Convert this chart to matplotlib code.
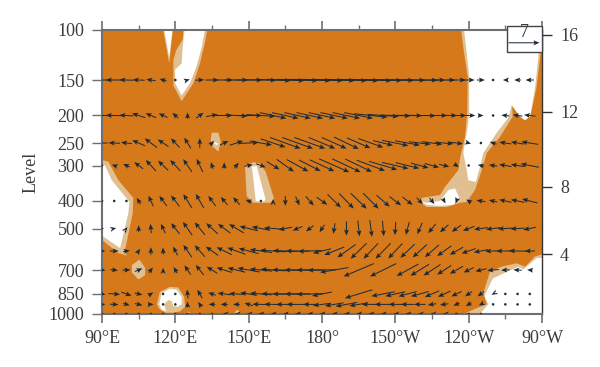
import numpy as np
import matplotlib
matplotlib.use('Agg')
import matplotlib.pyplot as plt
from matplotlib.patches import Rectangle
from matplotlib.ticker import NullLocator

plt.rcParams['font.family'] = ['Liberation Serif', 'DejaVu Serif']

# axes labels
lon_ticks = [90, 120, 150, 180, 210, 240, 270]
lon_labels = ['90°E', '120°E', '150°E', '180°', '150°W', '120°W', '90°W']
lon_minor = [105, 135, 165, 195, 225, 255]
level_ticks = [100, 150, 200, 250, 300, 400, 500, 700, 850, 1000]
height_km = [16, 12, 8, 4]
height_lev = [104, 194, 357, 615]

# wind grid, 5 degree steps from 90E
lons = np.arange(90, 270, 5)
wind_levels = [150, 200, 250, 300, 400, 500, 600, 700, 850, 925, 1000]
nan = np.nan

u150 = [-4.2, -3.8, -3.2, -2.7, -2.1, -1.6, 0.2, 1.0, 2.0, 3.0, 4.0, 5.2, 6.2, 7.0, 8.0, 8.6, 9.2, 9.5, 9.5, 9.3, 9.3, 9.0, 9.4, 8.6, 8.4, 8.0, 8.0, 6.0, 5.0, 4.2, 2.7, 1.8, 0.2, -1.1, -1.5, -1.9]
v150 = [0, 0, 0.1, 0.1, 0.3, 0.5, 0, 0.3, 0.1, 0, 0, 0, 0, -0.1, -0.3, -0.3, -0.3, -0.3, -0.3, -0.3, -0.3, -0.3, -0.3, -0.2, -0.2, -0.1, -0.1, 0, 0, 0, 0, 0, 0, 0, 0, 0]
u200 = [-4.2, -3.8, -3.2, -3.0, -2.4, -2.0, -1.3, 0, 1.7, 2.6, 3.7, 5.0, 6.0, 6.5, 6.0, 6.0, 6.0, 6.0, 6.0, 6.2, 6.2, 6.5, 7.5, 7.0, 6.9, 6.6, 7.2, 6.9, 5.8, 4.4, 3.0, 1.2, 0.3, -1.8, -2.2, -2.6]
v200 = [0, 0.1, 0.2, 1.0, 1.0, 0.9, 1.2, 1.4, 1.2, 0.5, 0, -0.3, 0, -0.4, -1.3, -1.3, -1.3, -1.3, -1.3, -1.3, -1.3, -1.3, -0.8, -0.5, -0.2, -0.1, -0.1, 0, 0, 0, 0, 0, 0, 0.2, 0.3, 0.3]
u250 = [-2.6, -2.6, -2.5, -2.9, -2.8, -2.4, -2.0, -1.5, 0, 1.0, 1.9, 3.0, 4.5, 5.0, 5.6, 6.9, 7.0, 7.0, 6.0, 5.6, 5.6, 5.3, 5.6, 4.5, 5.9, 5.6, 4.9, 4.7, 4.1, 3.0, 1.1, 0.2, -1.5, -2.7, -3.0, -3.8]
v250 = [0, 0.1, 0.3, 1.3, 2.1, 1.6, 2.1, 2.4, 2.2, 1.0, 0.9, 1.0, 0.2, -0.9, -1.9, -2.5, -2.5, -2.5, -2.5, -2.5, -2.7, -2.3, -2.0, -1.1, -1.2, -1.0, -0.6, -0.6, -0.4, -0.4, -0.3, 0, 0.5, 0.4, 0.5, 0.6]
u300 = [0, -1.1, -1.5, -2.0, -2.3, -2.3, -2.3, -2.0, -1.4, -0.5, 0, 1.0, 1.9, 2.2, 2.9, 3.9, 4.9, 4.9, 5.6, 6.8, 6.4, 6.0, 6.4, 6.4, 6.0, 5.3, 4.0, 3.2, 2.3, 1.1, 0.1, -1.4, -1.9, -2.8, -3.0, -4.1]
v300 = [0, 0.4, 0.7, 1.5, 2.5, 2.2, 2.5, 2.9, 3.0, 1.5, 1.4, 1.3, 0.4, -0.8, -1.8, -2.8, -2.7, -2.5, -2.6, -3.0, -3.0, -2.9, -2.4, -1.9, -1.4, -1.3, -1.1, -0.9, -0.5, -0.8, 0, 0.3, 0.3, 0.5, 0.5, 0.8]
u400 = [0.1, 0.1, -0.3, -0.9, -1.1, -1.7, -1.9, -1.9, -1.8, -1.7, -1.5, -1.5, -1.4, -0.6, 0, 0, 0.9, 1.8, 2.4, 3.0, 3.3, 3.6, 3.5, 3.0, 2.6, 2.3, 1.4, 1.1, 0.6, -0.4, -1.1, -2.0, -1.9, -2.8, -3.0, -3.5]
v400 = [0, 0, 0.3, 1.4, 2.4, 2.3, 2.5, 3.1, 3.2, 2.3, 1.8, 1.7, 0.5, 0, 0.9, -2.2, -2.0, -2.1, -1.7, -3.0, -3.4, -3.5, -3.5, -2.6, -2.0, -1.8, -1.5, -1.4, -1.1, -1.1, 0.7, 0.3, 0.4, 0.6, 0.6, 0.9]
u500 = [0.9, 0.9, 0.5, 0, -0.2, -1.0, -1.9, -2.1, -2.3, -2.6, -2.8, -3.3, -4.1, -4.1, -4.1, -3.0, -2.2, -1.7, -1.1, -0.4, 0, 0.4, 0.5, 0.3, -0.2, -0.8, -1.1, -1.7, -1.9, -2.1, -2.6, -3.1, -3.2, -3.4, -3.2, -2.9]
v500 = [0, 0.2, 0.6, 1.5, 2.1, 2.1, 2.4, 3.0, 2.8, 2.4, 2.1, 2.0, 1.0, 0.8, 0.3, -0.6, -0.9, -1.3, -1.7, -2.4, -3.2, -3.6, -3.8, -3.5, -3.0, -2.9, -2.6, -2.1, -1.7, -1.5, -1.0, -0.4, -0.4, -0.2, -0.2, -0.6]
u600 = [1.5, 2.0, 1.5, 0.7, 0, -0.1, -1.0, -1.9, -2.3, -2.8, -3.4, -4.1, -4.5, -5.0, -5.9, -5.6, -5.3, -5.3, -4.1, -4.5, -4.1, -3.6, -3.3, -3.4, -3.2, -3.2, -3.2, -3.2, -3.2, -3.0, -3.2, -3.2, -3.6, -4.1, -3.9, -2.3]
v600 = [0, 0, 0.2, 1.0, 1.7, 1.6, 2.0, 2.8, 2.6, 2.0, 1.7, 1.5, 1.2, 0.7, 0.4, 0.2, 0, -0.2, -1.0, -1.8, -2.9, -3.5, -3.5, -3.5, -3.4, -3.1, -2.9, -2.8, -2.3, -1.7, -1.1, -0.6, -0.1, 0, 0.1, 0]
u700 = [1.6, 1.7, 1.8, 1.7, 0.9, 0, -0.8, -1.4, -1.8, -2.4, -3.4, -4.0, -5.0, -5.0, -5.6, -6.0, -6.0, -6.0, -6.5, -6.4, nan, -6.8, nan, -5.9, nan, -4.9, -4.2, -3.8, -3.2, -3.0, -2.3, -2.5, -2.6, -1.9, -1.9, -1.2]
v700 = [-0.1, -0.2, 0.1, 0.7, 1.2, 1.0, 1.4, 2.1, 2.3, 1.5, 1.1, 1.0, 0.9, 0.5, 0.4, 0.1, 0, 0, -0.1, -1.1, nan, -2.9, nan, -2.9, nan, -2.7, -2.6, -2.5, -2.1, -1.7, -1.1, -0.6, -0.2, -0.1, 0.1, 0.1]
u850 = [1.6, 2.6, 2.3, 1.7, 1.1, 0, 0, -0.2, -1.1, -1.7, -3.0, -3.4, -3.8, -4.9, -5.3, -5.8, -5.8, -6.0, -4.5, nan, nan, -6.2, nan, -5.3, -4.5, -4.1, -4.0, -3.2, -2.8, -2.3, -1.6, -1.5, -0.7, -0.4, 0, 0]
v850 = [-0.2, -0.2, -0.8, -0.4, 0.7, 0, 0, 2.0, 1.9, 0.6, 0.4, 0.2, 0.6, 0.4, 0.1, 0, 0, -0.1, -0.9, nan, nan, -1.9, nan, -1.0, -1.0, -1.1, -1.1, -1.4, -1.3, -1.1, -1.1, -1.1, -0.4, -0.2, 0, 0]
u925 = [1.5, 1.9, 1.5, 1.7, 1.2, 0, 0, 0, -0.8, -1.5, -1.6, -1.5, -1.9, -3.8, -4.0, -4.2, -5.0, -3.0, -4.1, -4.2, -4.9, -4.2, -4.1, -3.8, -3.0, -3.0, -2.6, -1.9, -1.9, -1.4, -1.3, -0.9, -0.3, -0.2, 0, 0]
v925 = [0, -0.1, -0.5, -0.4, 0, 0, 0, 1.3, 1.1, 0, 0, 0, 0.6, 0.1, 0.1, 0, 0, 0, -0.5, -0.7, -0.9, -0.7, 0, 0, 0, 0, 0, -0.3, -0.3, -0.6, -0.8, -0.5, -0.2, -0.1, 0, 0]
u1000 = [0.5, 0.6, 0.5, 0.6, 0.5, 0, 0, 0, -0.4, -0.6, -0.8, -0.8, -1.0, -1.2, -1.2, -1.2, -1.2, -1.2, -1.2, -1.2, -1.2, -1.2, -1.2, -1.2, -1.0, -1.0, -0.9, -0.8, -0.7, -0.6, -0.4, -0.2, nan, nan, nan, nan]
v1000 = [0] * 36

# lightly significant (tan) regions, lon / hPa outlines
tan_regions = [
    ([115, 119, 117.5], [100, 100, 131]),
    ([123.3, 133.1, 132.1, 130.1, 127.4, 122.6, 119.2, 119.2, 120.3, 123], [100, 100, 111, 131, 154, 178, 157, 128, 118, 108]),
    ([134.9, 137.6, 138.6, 137.6, 134.9, 134.5], [230, 230, 247, 268, 256, 243]),
    ([148.5, 151.9, 154.6, 157, 160.4, 158.7, 151.9, 149.2], [302, 292, 295, 316, 393, 406, 406, 385]),
    ([90, 92.6, 96.7, 102.8, 102.6, 99.4, 100.1, 96.7, 90], [287, 291, 338, 390, 441, 596, 623, 610, 549]),
    ([102.2, 105.3, 107.6, 107.6, 104.9, 102.2], [673, 643, 687, 730, 756, 713]),
    ([112.4, 113.7, 117.8, 121.2, 123.6, 124, 121.9, 119.2, 116.2, 113.7], [925, 835, 803, 806, 870, 944, 979, 990, 990, 965]),
    ([143.7, 145.3, 147.1], [1000, 965, 1000]),
    ([124, 125.3, 126.7], [1000, 980, 1000]),
    ([236.9, 238.1, 239.6, 239.4, 238.5, 236.5, 235.8, 230.3, 228.3, 220.8, 220.1, 222.9, 231, 236.5, 239.2, 242.6, 245.4, 247.4, 252.8, 258, 257.6, 260.3, 263, 265.1, 267.8, 269.2, 270, 270],
     [100, 120, 146, 196, 238, 282, 311, 357, 381, 390, 406, 420, 420, 406, 403, 366, 311, 271, 238, 202, 167, 176, 204, 204, 159, 125, 111, 100]),
    ([237.8, 243.3, 247.4, 246, 248.7, 253.5, 259.7, 263.1, 267.2, 270, 270], [1000, 954, 925, 845, 711, 681, 663, 681, 627, 617, 1000]),
]

# not significant (white) regions
white_regions = [
    ([115.5, 118.8, 117.5], [100, 100, 125]),
    ([123.8, 132.1, 130.8, 128.7, 126, 122.6, 119.9, 119.9, 122.6, 123], [100, 100, 115, 134, 154, 170, 154, 138, 131, 115]),
    ([135.5, 137.9, 136.6], [247, 252, 254]),
    ([151.2, 153.3, 157, 155.3, 152.9, 151.5], [302, 302, 397, 403, 400, 311]),
    ([90, 91.2, 94, 101.2, 100.8, 97.4, 90], [297, 300, 338, 403, 441, 586, 530]),
    ([113.4, 114.4, 117.8, 120.6, 122.6, 122.6, 120.8, 119.2, 118.5, 117.1, 115.4, 116.2, 114.4], [925, 845, 815, 822, 870, 925, 942, 938, 900, 893, 925, 979, 965]),
    ([238.1, 239.2, 240.2, 240.2, 239.4, 237.8, 239.2, 239.8, 242.9, 244.3, 246, 251.5, 256.2, 257.6, 261, 263, 265.1, 267.2, 268.5, 268.5],
     [100, 120, 146, 196, 225, 271, 311, 338, 343, 311, 271, 230, 204, 184, 202, 208, 202, 159, 125, 100]),
    ([220.8, 222.9, 228.3, 231.7, 234.4, 236.2, 233.7, 228.3, 222.9], [403, 406, 400, 366, 361, 390, 413, 416, 413]),
    ([244.6, 248, 246.5, 249.9, 253.5, 260.3, 262.4, 267.8, 270, 270], [1000, 925, 863, 750, 725, 681, 697, 635, 635, 1000]),
]

orange = '#D5791B'
tan = '#E2BF90'
gray = '#6E6F71'
dark = '#1C2A36'
text_col = '#3C3C3C'
fs = 13

fig = plt.figure(figsize=(6, 3.67), dpi=100)
ax = fig.add_axes([102 / 600, 1 - 314 / 367, 440 / 600, 284 / 367])
ax.set_facecolor(orange)

for rx, ry in tan_regions:
    ax.fill(rx, ry, color=tan, lw=0, zorder=1)
for rx, ry in white_regions:
    ax.fill(rx, ry, color='white', lw=0, zorder=2)

U = np.array([u150, u200, u250, u300, u400, u500, u600, u700, u850, u925, u1000], dtype=float)
V = np.array([v150, v200, v250, v300, v400, v500, v600, v700, v850, v925, v1000], dtype=float)
X, Y = np.meshgrid(lons, wind_levels)
q = ax.quiver(X, Y, U, V, pivot='mid', units='dots', scale_units='dots', scale=7 / 31,
              width=1.0, headwidth=5, headlength=6, headaxislength=5, minshaft=0.4, minlength=2.8,
              color=dark, zorder=3)

ax.set_yscale('log')
ax.set_xlim(90, 270)
ax.set_ylim(1000, 100)
ax.set_yticks(level_ticks)
ax.set_yticklabels([str(l) for l in level_ticks], fontsize=fs, color=text_col)
ax.yaxis.set_minor_locator(NullLocator())
ax.set_xticks(lon_ticks)
ax.set_xticklabels(lon_labels, fontsize=fs, color=text_col)
ax.set_xticks(lon_minor, minor=True)
ax.tick_params(axis='x', which='major', top=True, length=6.5, width=1.2, color=gray, pad=5)
ax.tick_params(axis='x', which='minor', top=True, length=3.6, width=1.0, color=gray)
ax.tick_params(axis='y', which='major', length=7.2, width=1.0, color=gray, pad=5.5)
ax.set_ylabel('Level', fontsize=fs, color=text_col)
ax.yaxis.set_label_coords(-0.143, 0.5)
for side in ['left', 'top', 'bottom']:
    ax.spines[side].set_color(gray)
    ax.spines[side].set_linewidth(1.5)
ax.spines['right'].set_color('#333333')
ax.spines['right'].set_linewidth(1.0)

ax2 = ax.twinx()
ax2.set_yscale('log')
ax2.set_ylim(1000, 100)
ax2.set_yticks(height_lev)
ax2.set_yticklabels([str(h) for h in height_km], fontsize=fs, color=text_col)
ax2.yaxis.set_minor_locator(NullLocator())
ax2.tick_params(axis='y', length=7, width=1.0, color='#333333', pad=6)
for s in ax2.spines.values():
    s.set_visible(False)

# reference vector box
ax.add_patch(Rectangle((0.92, 0.9225), 0.08, 0.0925, transform=ax.transAxes, fc='white',
                       ec='#444444', lw=1.0, clip_on=False, zorder=5))
qk = ax.quiverkey(q, 0.959, 0.955, 7, '7', labelpos='N', labelsep=0.02, coordinates='axes',
                  fontproperties={'family': 'Liberation Serif', 'size': fs}, labelcolor=text_col, zorder=6)

fig.savefig('out.png', dpi=100)
